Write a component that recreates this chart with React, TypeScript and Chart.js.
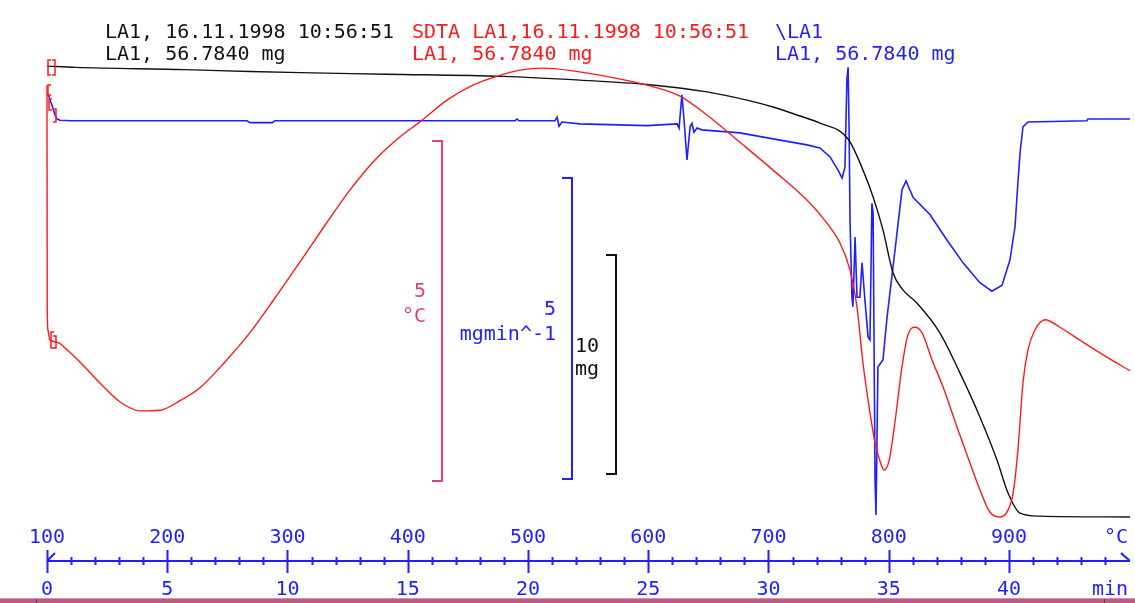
import { useEffect, useRef } from 'react';
import { Chart, registerables } from 'chart.js';

Chart.register(...registerables);

// ---- Data (time in min) ----
// TG: sample mass in mg
const tgTime = [0, 1.2, 5.74, 8.44, 10.52, 14.14, 18.96, 22.16, 24.95, 27.44, 29.23, 30.19, 31.31, 32.14, 33.31, 33.93, 34.35, 34.76, 35.18, 35.59, 36.17, 37.13, 37.96, 38.79, 39.5, 39.96, 40.46, 41.29, 45.03];
const tgMass = [56.78, 56.72, 56.62, 56.53, 56.48, 56.41, 56.31, 56.14, 55.94, 55.6, 55.19, 54.91, 54.5, 54.18, 53.45, 52.03, 50.8, 49.3, 47.33, 46.56, 45.96, 44.59, 42.77, 40.76, 38.79, 37.29, 36.37, 36.23, 36.19];

// DTG: mass change rate in mg/min
const dtgTime = [0, 0.08, 0.12, 0.21, 0.33, 0.42, 0.54, 1.04, 8.32, 8.44, 9.36, 9.48, 19.46, 19.54, 19.63, 21.12, 21.21, 21.29, 21.41, 22.16, 24.95, 26.2, 26.28, 26.4, 26.49, 26.61, 26.74, 26.82, 26.9, 27.03, 27.23, 28.81, 30.19, 31.6, 32.14, 32.56, 32.89, 33.06, 33.18, 33.26, 33.31, 33.35, 33.39, 33.47, 33.51, 33.6, 33.68, 33.8, 33.89, 34.01, 34.14, 34.22, 34.3, 34.35, 34.43, 34.47, 34.55, 34.76, 34.93, 35.26, 35.55, 35.72, 36.01, 36.72, 37.42, 38.09, 38.79, 39.29, 39.71, 40.04, 40.25, 40.37, 40.46, 40.58, 40.79, 43.24, 43.28, 45.03];
const dtgRate = [0.4, 0.38, 0.32, 0.23, 0.07, 0.0, -0.02, -0.03, -0.03, -0.06, -0.06, -0.03, -0.03, 0.0, -0.03, -0.03, 0.03, -0.12, -0.05, -0.08, -0.11, -0.08, -0.15, 0.4, -0.02, -0.68, -0.13, -0.07, -0.22, -0.15, -0.18, -0.23, -0.33, -0.43, -0.48, -0.63, -0.85, -0.98, -0.8, 0.65, 0.86, -0.13, -1.68, -2.96, -3.12, -1.96, -2.96, -2.96, -2.39, -3.01, -3.62, -3.67, -1.4, -1.56, -6.0, -6.58, -4.12, -4.0, -3.29, -2.18, -1.18, -1.03, -1.3, -1.59, -2.01, -2.39, -2.72, -2.86, -2.76, -2.34, -1.79, -1.06, -0.56, -0.13, -0.05, -0.03, 0.0, 0.0];

// SDTA: temperature difference in °C
const sdtaTime = [0, 0.01, 0.04, 0.12, 0.42, 0.83, 1.37, 2.2, 3.04, 3.87, 4.7, 5.53, 6.36, 7.4, 8.44, 9.48, 10.52, 11.56, 12.6, 13.64, 14.68, 15.51, 16.63, 17.71, 18.71, 19.67, 20.62, 21.87, 23.53, 24.95, 26.32, 27.44, 28.81, 30.19, 31.6, 32.43, 32.97, 33.39, 33.68, 33.93, 34.22, 34.43, 34.64, 34.8, 35.01, 35.26, 35.55, 35.8, 36.09, 36.38, 36.8, 37.26, 37.84, 38.38, 38.79, 39.21, 39.63, 39.96, 40.17, 40.37, 40.58, 40.79, 41.08, 41.5, 42.12, 42.95, 44.07, 45.03];
const sdtaDelta = [4.63, 1.37, 1.03, 0.88, 0.85, 0.74, 0.56, 0.25, -0.03, -0.16, -0.15, -0.01, 0.18, 0.56, 0.99, 1.5, 2.03, 2.57, 3.09, 3.53, 3.87, 4.09, 4.41, 4.63, 4.76, 4.85, 4.88, 4.84, 4.74, 4.63, 4.47, 4.19, 3.79, 3.38, 2.94, 2.6, 2.31, 1.91, 1.37, 0.54, -0.19, -0.63, -0.9, -1.03, -0.9, -0.32, 0.49, 0.96, 1.07, 0.99, 0.59, 0.19, -0.4, -0.93, -1.32, -1.65, -1.72, -1.62, -1.37, -0.74, 0.25, 0.74, 1.03, 1.18, 1.07, 0.88, 0.63, 0.43];

// Axis labels
const timeTicks = [0, 5, 10, 15, 20, 25, 30, 35, 40];
const tempTicks = ['100', '200', '300', '400', '500', '600', '700', '800', '900'];
const minorTickTimes = [1, 2, 3, 4, 6, 7, 8, 9, 11, 12, 13, 14, 16, 17, 18, 19, 21, 22, 23, 24, 26, 27, 28, 29, 31, 32, 33, 34, 36, 37, 38, 39, 41, 42, 43, 44];

// Headers
const headerTG = ['LA1, 16.11.1998 10:56:51', 'LA1, 56.7840 mg'];
const headerSDTA = ['SDTA LA1,16.11.1998 10:56:51', 'LA1, 56.7840 mg'];
const headerDTG = ['\\LA1', 'LA1, 56.7840 mg'];

// Scale bars (value spans)
const barSDTA = { span: 5, label: ['5', '°C'] };
const barDTG = { span: 5, label: ['5', 'mgmin^-1'] };
const barTG = { span: 10, label: ['10', 'mg'] };

const RED = '#ff1a1a';
const BLUE = '#1f1fff';
const BLACK = '#111111';
const PINK = '#e23d88';
const FONT = '20px "DejaVu Sans Mono", monospace';

const toPts = (xs: number[], ys: number[]) => xs.map((x, i) => ({ x, y: ys[i] }));

const decor = {
  id: 'decor',
  afterDatasetsDraw(chart: any) {
    const ctx = chart.ctx as CanvasRenderingContext2D;
    const xs = chart.scales.x;
    ctx.save();
    ctx.font = FONT;
    ctx.textBaseline = 'alphabetic';

    // headers
    const header = (lines: string[], x: number, color: string) => {
      ctx.fillStyle = color;
      ctx.textAlign = 'left';
      ctx.fillText(lines[0], x, 38);
      ctx.fillText(lines[1], x, 60);
    };
    header(headerTG, 105, BLACK);
    header(headerSDTA, 412, RED);
    header(headerDTG, 775, BLUE);

    // scale bars
    const bar = (id: string, span: number, xPix: number, bottom: number, color: string) => {
      const s = chart.scales[id];
      const h = Math.abs(s.getPixelForValue(0) - s.getPixelForValue(span));
      const top = bottom - h;
      ctx.strokeStyle = color;
      ctx.lineWidth = 2;
      ctx.beginPath();
      ctx.moveTo(xPix - 10, top);
      ctx.lineTo(xPix, top);
      ctx.lineTo(xPix, bottom);
      ctx.lineTo(xPix - 10, bottom);
      ctx.stroke();
    };
    bar('ySDTA', barSDTA.span, 442, 481, PINK);
    bar('yDTG', barDTG.span, 572, 479, BLUE);
    bar('yTG', barTG.span, 616, 474, BLACK);

    ctx.textAlign = 'right';
    ctx.fillStyle = PINK;
    ctx.fillText(barSDTA.label[0], 426, 297);
    ctx.fillText(barSDTA.label[1], 426, 322);
    ctx.fillStyle = BLUE;
    ctx.fillText(barDTG.label[0], 556, 315);
    ctx.fillText(barDTG.label[1], 556, 340);
    ctx.textAlign = 'left';
    ctx.fillStyle = BLACK;
    ctx.fillText(barTG.label[0], 575, 352);
    ctx.fillText(barTG.label[1], 575, 375);

    // start markers (red brackets)
    ctx.strokeStyle = RED;
    ctx.lineWidth = 1.5;
    const br = (x: number, y0: number, y1: number, dir: number) => {
      ctx.beginPath();
      ctx.moveTo(x + 3 * dir, y0);
      ctx.lineTo(x, y0);
      ctx.lineTo(x, y1);
      ctx.lineTo(x + 3 * dir, y1);
      ctx.stroke();
    };
    br(48, 60, 75, 1);
    br(55, 60, 75, -1);
    br(48, 85, 95, 1);
    br(49, 99, 110, 1);
    br(56, 109, 122, -1);
    br(51, 332, 348, 1);
    br(56, 336, 348, -1);

    // time / temperature axis
    const axY = 561;
    const x0 = xs.getPixelForValue(0);
    const xEnd = 1130;
    ctx.strokeStyle = BLUE;
    ctx.lineWidth = 2;
    ctx.beginPath();
    ctx.moveTo(x0, axY);
    ctx.lineTo(xEnd, axY);
    ctx.moveTo(x0, axY);
    ctx.lineTo(x0 + 8, axY - 8);
    ctx.moveTo(xEnd, axY);
    ctx.lineTo(xEnd - 9, axY - 8);
    ctx.stroke();
    ctx.beginPath();
    timeTicks.forEach((t) => {
      const px = Math.round(xs.getPixelForValue(t)) + 0.5;
      ctx.moveTo(px, axY - 11);
      ctx.lineTo(px, axY + 12);
    });
    minorTickTimes.forEach((t) => {
      const px = Math.round(xs.getPixelForValue(t)) + 0.5;
      ctx.moveTo(px, axY - 4);
      ctx.lineTo(px, axY + 4);
    });
    ctx.stroke();

    ctx.fillStyle = BLUE;
    ctx.textAlign = 'center';
    timeTicks.forEach((t, i) => {
      const px = xs.getPixelForValue(t);
      ctx.fillText(tempTicks[i], px, 543);
      ctx.fillText(String(t), px, 595);
    });
    ctx.fillText('°C', 1116, 543);
    ctx.fillText('min', 1110, 595);

    // bottom band
    ctx.fillStyle = '#d590ad';
    ctx.fillRect(0, 598, 1135, 1);
    ctx.fillStyle = '#bd5a83';
    ctx.fillRect(0, 599, 1135, 4);
    ctx.fillStyle = '#444';
    ctx.fillRect(36, 599, 1, 4);
    ctx.fillRect(1104, 599, 1, 4);

    ctx.restore();
  },
};

export default function App() {
  const ref = useRef<HTMLCanvasElement>(null);
  useEffect(() => {
    document.body.style.margin = '0';
    const canvas = ref.current!;
    const chart = new Chart(canvas, {
      type: 'line',
      data: {
        datasets: [
          {
            label: 'SDTA',
            data: toPts(sdtaTime, sdtaDelta),
            yAxisID: 'ySDTA',
            borderColor: RED,
            borderWidth: 1.4,
            pointRadius: 0,
            cubicInterpolationMode: 'monotone',
          },
          {
            label: 'TG',
            data: toPts(tgTime, tgMass),
            yAxisID: 'yTG',
            borderColor: BLACK,
            borderWidth: 1.4,
            pointRadius: 0,
            cubicInterpolationMode: 'monotone',
          },
          {
            label: 'DTG',
            data: toPts(dtgTime, dtgRate),
            yAxisID: 'yDTG',
            borderColor: BLUE,
            borderWidth: 1.6,
            pointRadius: 0,
            tension: 0,
          },
        ],
      },
      options: {
        responsive: false,
        maintainAspectRatio: false,
        animation: false,
        events: [],
        layout: { padding: 0 },
        plugins: {
          legend: { display: false },
          tooltip: { enabled: false },
          title: { display: false },
        },
        scales: {
          x: { type: 'linear', min: -1.954, max: 45.239, display: false },
          yTG: { type: 'linear', min: 32.263, max: 59.798, display: false },
          yDTG: { type: 'linear', min: -8.04, max: 1.977, display: false },
          ySDTA: { type: 'linear', min: -2.985, max: 5.882, display: false },
        },
      },
      plugins: [decor],
    });
    return () => chart.destroy();
  }, []);
  return <canvas ref={ref} width={1135} height={603} style={{ display: 'block' }} />;
}
